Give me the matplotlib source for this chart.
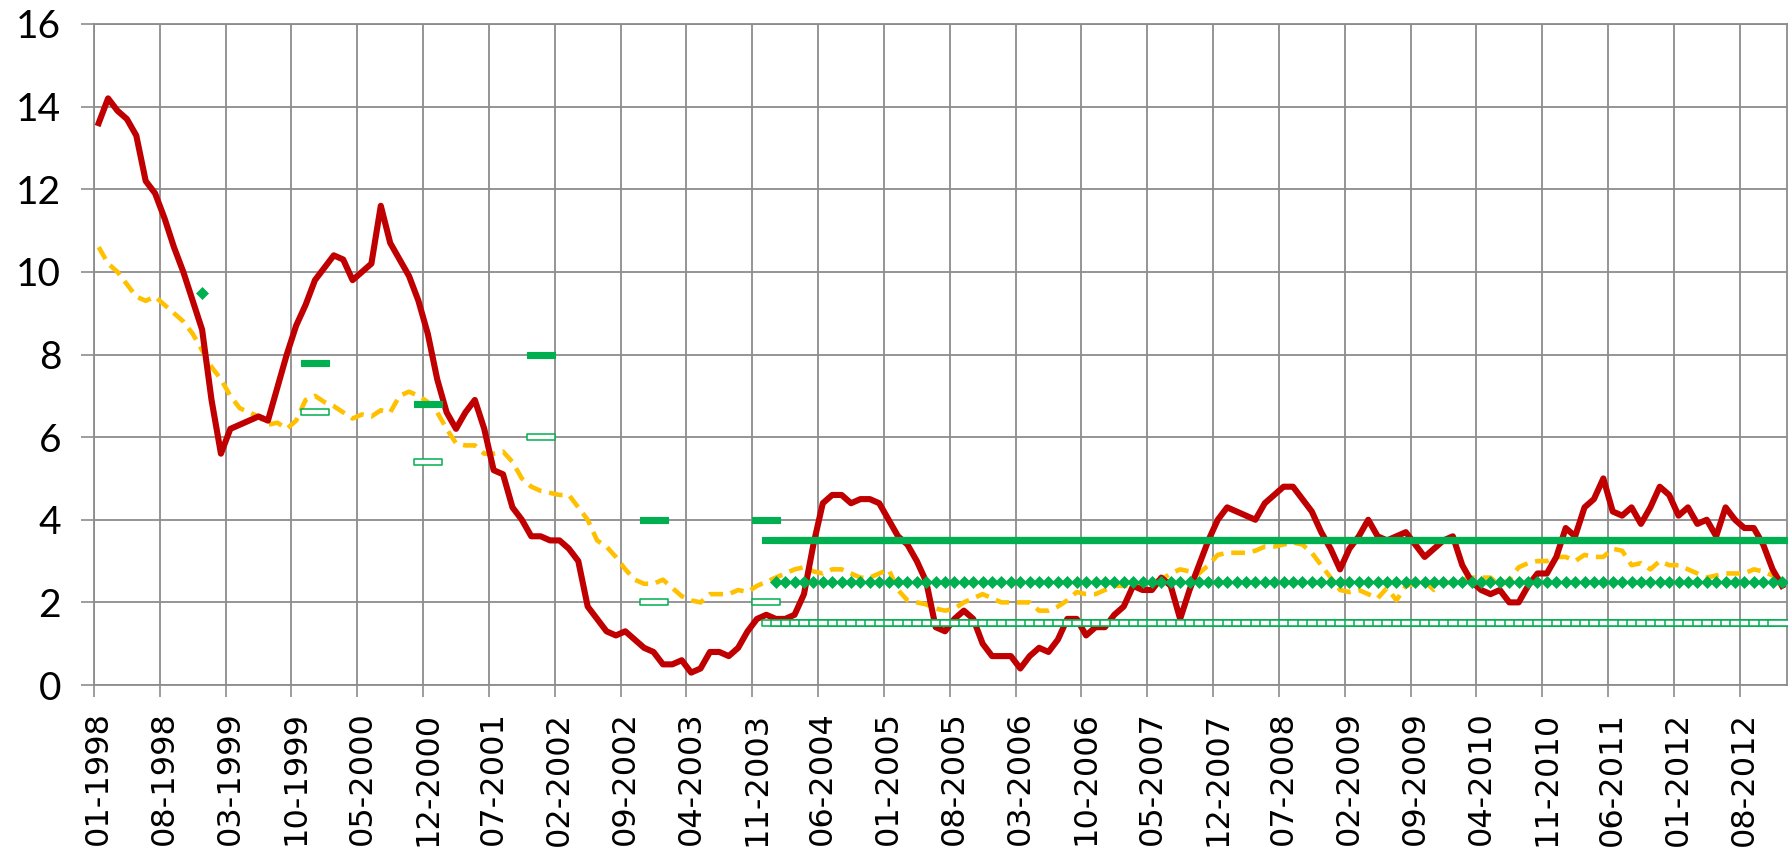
import numpy as np
import pandas as pd
import matplotlib
matplotlib.use('Agg')
import matplotlib.pyplot as plt
from matplotlib.path import Path

# Miesiace 01-1998 .. 12-2012
months = pd.period_range('1998-01', periods=180, freq='M')
month_labels = [m.strftime('%m-%Y') for m in months]

# Inflacja CPI (r/r, %)
cpi = [13.6, 14.2, 13.9, 13.7, 13.3, 12.2, 11.9, 11.3, 10.6, 10.0, 9.3, 8.6,
       6.9, 5.6, 6.2, 6.3, 6.4, 6.5, 6.4, 7.2, 8.0, 8.7, 9.2, 9.8,
       10.1, 10.4, 10.3, 9.8, 10.0, 10.2, 11.6, 10.7, 10.3, 9.9, 9.3, 8.5,
       7.4, 6.6, 6.2, 6.6, 6.9, 6.2, 5.2, 5.1, 4.3, 4.0, 3.6, 3.6,
       3.5, 3.5, 3.3, 3.0, 1.9, 1.6, 1.3, 1.2, 1.3, 1.1, 0.9, 0.8,
       0.5, 0.5, 0.6, 0.3, 0.4, 0.8, 0.8, 0.7, 0.9, 1.3, 1.6, 1.7,
       1.6, 1.6, 1.7, 2.2, 3.4, 4.4, 4.6, 4.6, 4.4, 4.5, 4.5, 4.4,
       4.0, 3.6, 3.4, 3.0, 2.5, 1.4, 1.3, 1.6, 1.8, 1.6, 1.0, 0.7,
       0.7, 0.7, 0.4, 0.7, 0.9, 0.8, 1.1, 1.6, 1.6, 1.2, 1.4, 1.4,
       1.7, 1.9, 2.4, 2.3, 2.3, 2.6, 2.4, 1.6, 2.3, 2.9, 3.5, 4.0,
       4.3, 4.2, 4.1, 4.0, 4.4, 4.6, 4.8, 4.8, 4.5, 4.2, 3.7, 3.3,
       2.8, 3.3, 3.6, 4.0, 3.6, 3.5, 3.6, 3.7, 3.4, 3.1, 3.3, 3.5,
       3.6, 2.9, 2.5, 2.3, 2.2, 2.3, 2.0, 2.0, 2.4, 2.7, 2.7, 3.1,
       3.8, 3.6, 4.3, 4.5, 5.0, 4.2, 4.1, 4.3, 3.9, 4.3, 4.8, 4.6,
       4.1, 4.3, 3.9, 4.0, 3.6, 4.3, 4.0, 3.8, 3.8, 3.4, 2.8, 2.4]

# Inflacja bazowa (r/r, %)
core = [10.6, 10.2, 10.0, 9.7, 9.4, 9.3, 9.4, 9.2, 9.0, 8.8, 8.5, 8.1,
        7.7, 7.4, 7.0, 6.7, 6.6, 6.5, 6.3, 6.35, 6.2, 6.4, 6.9, 7.0,
        6.85, 6.75, 6.6, 6.45, 6.55, 6.5, 6.65, 6.6, 7.0, 7.1, 7.0, 6.85,
        6.6, 6.2, 5.85, 5.8, 5.8, 5.6, 5.6, 5.65, 5.4, 5.0, 4.8, 4.7,
        4.65, 4.6, 4.6, 4.3, 4.0, 3.5, 3.35, 3.1, 2.8, 2.55, 2.45, 2.45,
        2.55, 2.35, 2.15, 2.05, 2.0, 2.2, 2.2, 2.2, 2.3, 2.25, 2.4, 2.5,
        2.6, 2.7, 2.8, 2.85, 2.75, 2.7, 2.8, 2.8, 2.7, 2.6, 2.6, 2.7,
        2.8, 2.3, 2.05, 2.0, 1.95, 1.85, 1.8, 1.85, 2.0, 2.1, 2.2, 2.1,
        2.0, 2.0, 2.0, 2.0, 1.8, 1.8, 1.9, 2.05, 2.25, 2.2, 2.2, 2.3,
        2.4, 2.4, 2.4, 2.45, 2.5, 2.55, 2.7, 2.8, 2.75, 2.7, 2.9, 3.15,
        3.2, 3.2, 3.2, 3.25, 3.35, 3.35, 3.4, 3.45, 3.4, 3.2, 2.9, 2.6,
        2.3, 2.25, 2.3, 2.2, 2.1, 2.35, 2.05, 2.4, 2.45, 2.5, 2.3, 2.45,
        2.5, 2.55, 2.6, 2.6, 2.6, 2.4, 2.55, 2.85, 2.95, 3.0, 3.0, 3.1,
        3.1, 3.0, 3.15, 3.1, 3.1, 3.3, 3.25, 2.9, 2.95, 2.8, 3.0, 2.9,
        2.9, 2.8, 2.7, 2.6, 2.65, 2.7, 2.7, 2.7, 2.8, 2.75, 2.65, 2.55]

# Cele inflacyjne (koniec roku) 1998-2003
point_target_month = '1998-12'
point_target = 9.5
band_months = ['1999-12', '2000-12', '2001-12', '2002-12', '2003-12']
band_upper = [7.8, 6.8, 8.0, 4.0, 4.0]
band_lower = [6.6, 5.4, 6.0, 2.0, 2.0]

# Cel ciagly od 2004
cont_start = '2004-01'
cont_target = 2.5
cont_upper = 3.5
cont_lower = 1.5

# budowa serii
n = len(months)
idx = {str(m): i for i, m in enumerate(months)}
upper = np.full(n, np.nan)
lower = np.full(n, np.nan)
target = np.full(n, np.nan)
target[idx[point_target_month]] = point_target
for m, u, l in zip(band_months, band_upper, band_lower):
    upper[idx[m]] = u
    lower[idx[m]] = l
s = idx[cont_start]
upper[s:] = cont_upper
lower[s:] = cont_lower
target[s:] = cont_target

x = np.arange(n)
green = '#00B050'
grid_col = '#8C8C8C'

rect = Path([(-1, -0.25), (1, -0.25), (1, 0.25), (-1, 0.25), (-1, -0.25)],
            [Path.MOVETO, Path.LINETO, Path.LINETO, Path.LINETO, Path.CLOSEPOLY])

fig = plt.figure(figsize=(17.9, 8.48), dpi=100)
ax = fig.add_axes([0.0525, 0.1922, 0.99816 - 0.0525, 0.9717 - 0.1922])

ax.plot(x, core, color='#FFC000', lw=3.3, linestyle=(0, (3.0, 1.7)), zorder=3)
ax.plot(x, cpi, color='#C00000', lw=4.4, zorder=4)
ax.plot(x, upper, linestyle='none', marker=rect, ms=19.5, mfc=green, mec=green,
        mew=0.8, zorder=5)
ax.plot(x, lower, linestyle='none', marker=rect, ms=19.5, mfc='white', mec=green,
        mew=1.1, zorder=5)
ax.plot(x, target, linestyle='none', marker='D', ms=6.5, mfc=green, mec=green,
        mew=0.5, zorder=6)

ax.set_xlim(-0.5, n - 0.5)
ax.set_ylim(0, 16)

# siatka pionowa co 7 miesiecy, etykiety w srodku miesiaca
lab_pos = np.arange(0, n, 7)
ax.set_xticks(lab_pos - 0.5)
ax.set_xticklabels([])
ax.set_xticks(lab_pos, minor=True)
ax.set_xticklabels([month_labels[i] for i in lab_pos], minor=True, rotation=90,
                   fontsize=23, family='DejaVu Sans')
ax.tick_params(axis='x', which='major', length=8.6, width=1.2, color=grid_col)
ax.tick_params(axis='x', which='minor', length=0, pad=19)

ax.set_yticks(np.arange(0, 17, 2))
ax.set_yticklabels([str(v) for v in range(0, 17, 2)], fontsize=28, family='Lato')
ax.tick_params(axis='y', length=9.6, width=1.2, color=grid_col, pad=14)

ax.grid(which='major', color=grid_col, lw=1.3)
ax.set_axisbelow(True)
for sp in ax.spines.values():
    sp.set_color(grid_col)
    sp.set_linewidth(1.3)

fig.savefig('out.png', dpi=100)
